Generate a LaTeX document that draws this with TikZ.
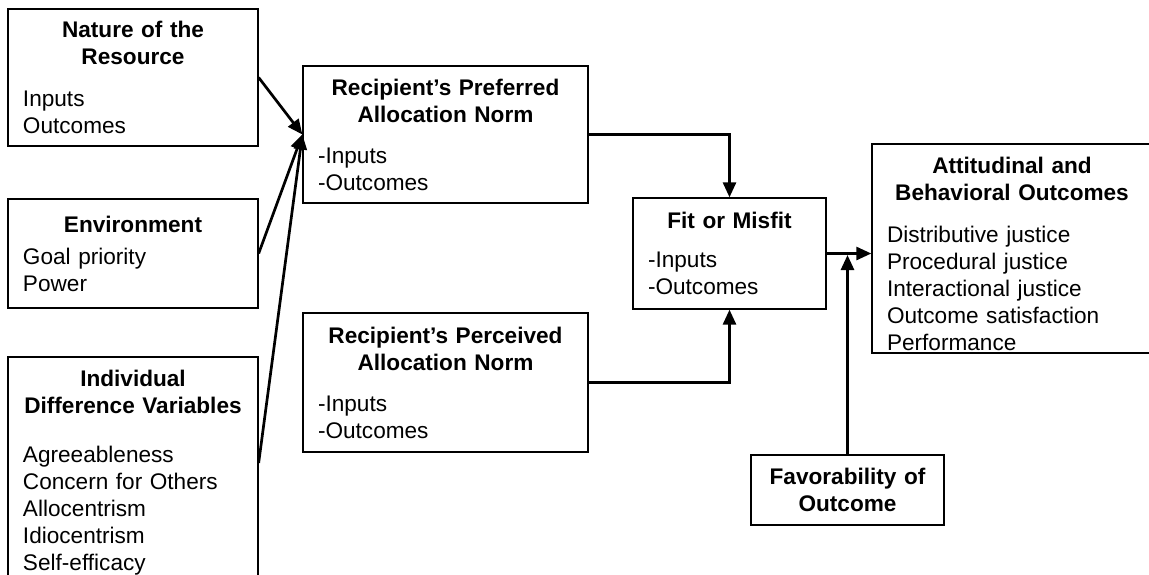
\documentclass[tikz,border=0pt]{standalone}
\usepackage{fontspec}
\setmainfont{Liberation Sans}
\usepackage{tikz}
\usetikzlibrary{arrows.meta}
\setlength{\parindent}{0pt}
\newcommand{\heading}[2][14pt]{{\centering\bfseries #2\par}\vspace{#1}}
\tikzset{
  factor/.style={draw, line width=1.3pt, inner xsep=15pt, inner ysep=0pt, align=left},
  link/.style={-{Triangle[length=15pt, width=13pt]}, line width=2.7pt}
}

\begin{document}
\begin{tikzpicture}[x=1pt, y=-1pt, every node/.style={font=\fontsize{22.6}{27}\selectfont}]
  \clip (0,0) rectangle (1149,574);
  \node[factor, text width=220pt, minimum height=137pt] (nature) at (133,77.5) {\heading[15pt]{Nature of the\\Resource}Inputs\\Outcomes};
  \node[factor, text width=220pt, minimum height=109pt] (env) at (133,253.5) {\heading[5pt]{Environment}Goal priority\\Power};
  \node[factor, text width=220pt, minimum height=224pt] (indiv) at (133,469) {\heading[22pt]{\rule{0pt}{23pt}Individual\\Difference Variables}Agreeableness\\Concern for Others\\Allocentrism\\Idiocentrism\\Self-efficacy};
  \node[factor, text width=255pt, minimum height=137pt] (pref) at (445.5,134.5) {\heading{Recipient’s Preferred\\Allocation Norm}-Inputs\\-Outcomes};
  \node[factor, text width=255pt, minimum height=139pt] (perc) at (445.5,382.5) {\heading{Recipient’s Perceived\\Allocation Norm}-Inputs\\-Outcomes};
  \node[factor, text width=163pt, minimum height=111pt] (fit) at (729.5,253.5) {\heading[12pt]{Fit or Misfit}-Inputs\\-Outcomes};
  \node[factor, text width=250pt, minimum height=209pt] (att) at (1012,248.5) {\heading[15pt]{\rule{0pt}{27pt}Attitudinal and\\Behavioral Outcomes}Distributive justice\\Procedural justice\\Interactional justice\\Outcome satisfaction\\Performance};
  \node[factor, text width=163pt, minimum height=70pt] (fav) at (847.5,490) {{\centering\bfseries Favorability of\\Outcome\par}};
  \draw[link] (nature.east) -- (pref.west);
  \draw[link] (env.east) -- (pref.west);
  \draw[link] ([yshift=6pt]indiv.east) -- (pref.west);
  \draw[link] (pref.east) -| (fit.north);
  \draw[link] (perc.east) -| (fit.south);
  \draw[link] (fit.east) -- (fit.east -| att.west);
  \draw[link, shorten >=1.5pt] (fav.north) -- (fav.north |- fit.east);
\end{tikzpicture}
\end{document}
